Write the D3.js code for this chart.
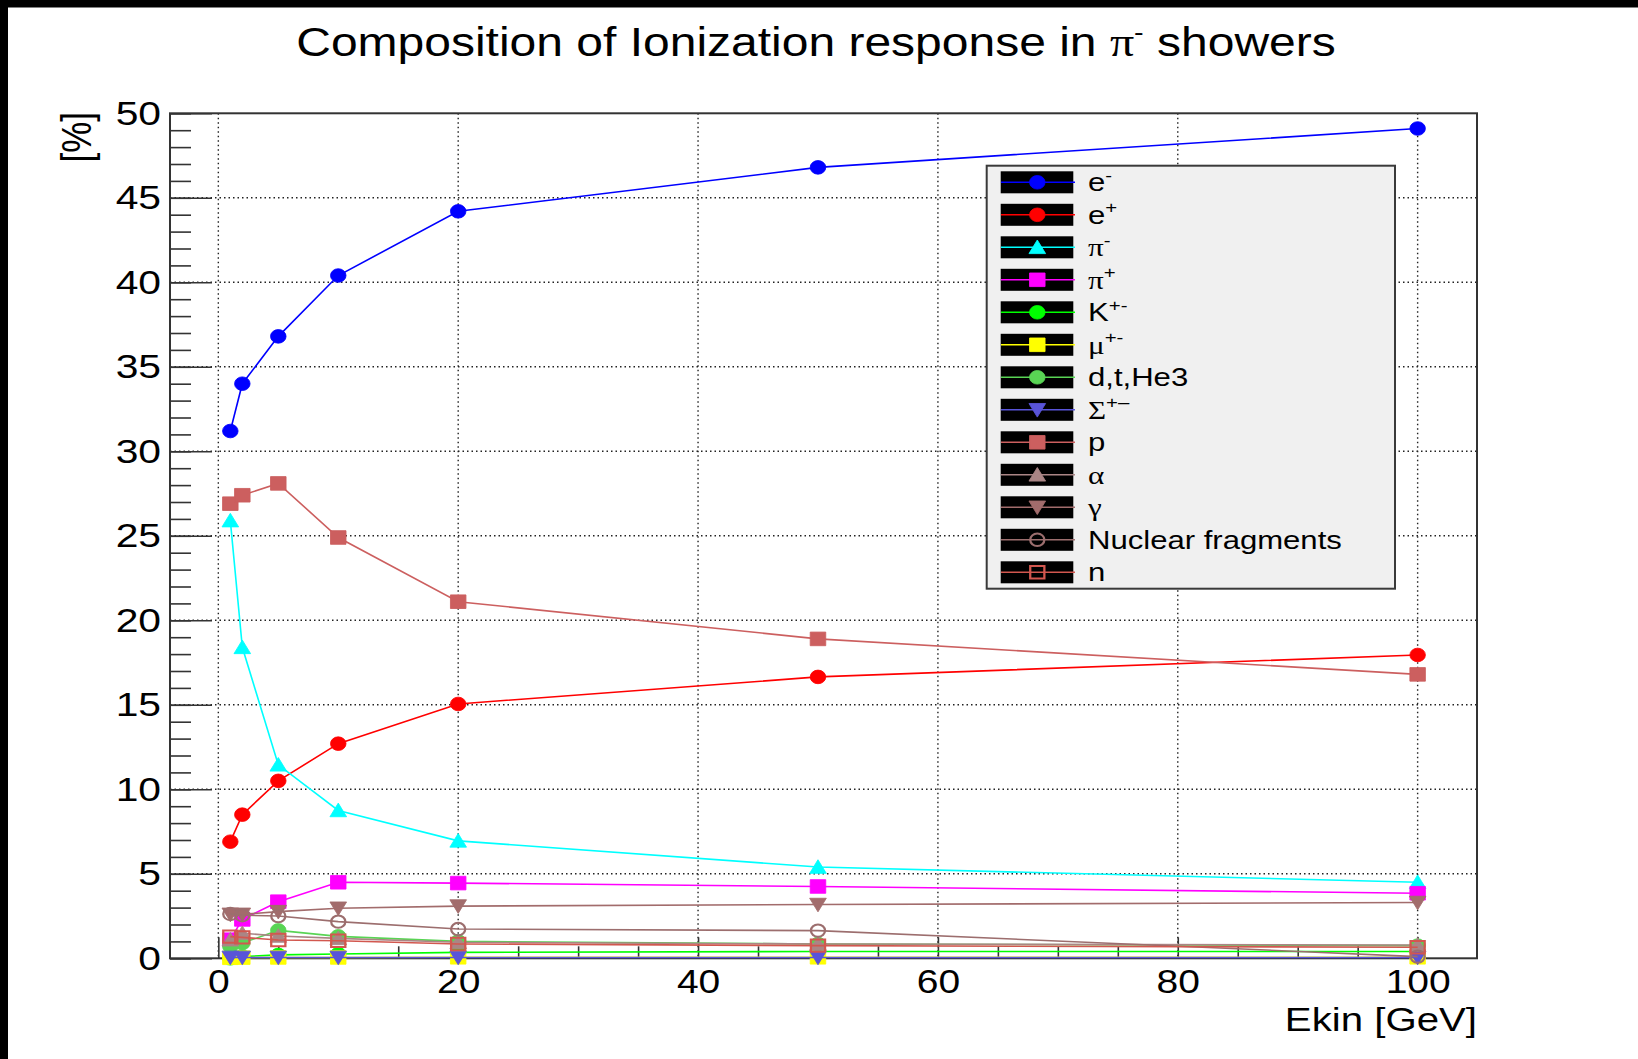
<!DOCTYPE html>
<html><head><meta charset="utf-8">
<script src="https://cdn.jsdelivr.net/npm/d3@7"></script>
<style>
html,body{margin:0;padding:0;background:#fdfdfd;}
svg{display:block;}
text{font-family:"Liberation Sans",Arial,Helvetica,sans-serif;fill:#000;}
</style>
</head><body>
<svg id="chart" width="1638" height="1059"></svg>
<script>
// Beam kinetic energies [GeV]
const energies = [1, 2, 5, 10, 20, 50, 100];

// Share of the ionization response [%] carried by each particle species
const eMinus   = [31.2, 34.0, 36.8, 40.4, 44.2, 46.8, 49.1];
const ePlus    = [6.9, 8.5, 10.5, 12.7, 15.05, 16.65, 17.95];
const piMinus  = [25.9, 18.4, 11.45, 8.75, 6.95, 5.4, 4.5];
const piPlus   = [1.1, 2.3, 3.35, 4.5, 4.45, 4.25, 3.85];
const kaons    = [0.0, 0.1, 0.2, 0.25, 0.35, 0.4, 0.4];
const muons    = [0.03, 0.04, 0.05, 0.05, 0.06, 0.06, 0.06];
const dtHe3    = [0.7, 0.9, 1.65, 1.3, 1.0, 0.85, 0.75];
const sigmas   = [0.05, 0.05, 0.05, 0.05, 0.05, 0.05, 0.05];
const protons  = [26.9, 27.4, 28.1, 24.9, 21.1, 18.9, 16.8];
const alphas   = [1.1, 1.48, 1.32, 1.18, 0.95, 0.85, 0.79];
const gammas   = [2.6, 2.6, 2.76, 2.96, 3.09, 3.18, 3.3];
const nucFrags = [2.62, 2.55, 2.5, 2.17, 1.73, 1.64, 0.1];
const neutrons = [1.28, 1.24, 1.08, 1.04, 0.85, 0.75, 0.65];

// Axis ticks
const xMajorTicks = [0, 20, 40, 60, 80, 100];
const xMinorTicks = [5, 10, 15, 25, 30, 35, 45, 50, 55, 65, 70, 75, 85, 90, 95];
const yMajorTicks = [0, 5, 10, 15, 20, 25, 30, 35, 40, 45, 50];
const yMinorTicks = d3.range(0, 51, 1);

const titleText = "Composition of Ionization response in ";
const xTitle = "Ekin [GeV]";
const yTitle = "[%]";

// Series: legend label, superscript, values, drawing style
const series = [
  {label: "e", sup: "-",  values: eMinus,   color: "#0000ff", shape: "circle"},
  {label: "e", sup: "+",  values: ePlus,    color: "#ff0000", shape: "circle"},
  {label: "π", sup: "-",  values: piMinus,  color: "#00ffff", shape: "triUp", greek: true},
  {label: "π", sup: "+",  values: piPlus,   color: "#ff00ff", shape: "square", greek: true},
  {label: "K", sup: "+-", values: kaons,    color: "#00ff00", shape: "circle"},
  {label: "μ", sup: "+-", values: muons,    color: "#ffff00", shape: "square", greek: true},
  {label: "d,t,He3",      values: dtHe3,    color: "#59d454", shape: "circle"},
  {label: "Σ", sup: "+–", values: sigmas,   color: "#5954d9", shape: "triDown", greek: true},
  {label: "p",            values: protons,  color: "#cc5f5f", shape: "square"},
  {label: "α",            values: alphas,   color: "#aa8585", shape: "triUp", greek: true},
  {label: "γ",            values: gammas,   color: "#a26c6c", shape: "triDown", greek: true},
  {label: "Nuclear fragments", values: nucFrags, color: "#9c6e6e", shape: "circleOpen"},
  {label: "n",            values: neutrons, color: "#d2574f", shape: "squareOpen"}
];

const W = 1638, H = 1059;
const SX = 1.2;                // horizontal stretch of glyphs and markers
const frame = {l: 170, r: 1477, t: 113.3, b: 958.3};

const svg = d3.select("#chart");

// background with dark strips along the left and top edges
svg.append("rect").attr("x", 0).attr("y", 0).attr("width", W).attr("height", H).attr("fill", "#000");
svg.append("rect").attr("x", 8).attr("y", 7.5).attr("width", W - 8).attr("height", H - 7.5).attr("fill", "#fff");

const x = d3.scaleLinear().domain([-4.03, 104.95]).range([frame.l, frame.r]);
const y = d3.scaleLinear().domain([0, 50]).range([frame.b, frame.t]);

// dotted grid at major ticks
const grid = svg.append("g").attr("stroke", "#222").attr("stroke-width", 1.4).attr("stroke-dasharray", "1.5,3");
grid.selectAll("line.gx").data(xMajorTicks).join("line")
  .attr("x1", d => x(d)).attr("x2", d => x(d)).attr("y1", frame.t).attr("y2", frame.b);
grid.selectAll("line.gy").data(yMajorTicks.filter(v => v > 0 && v < 50)).join("line")
  .attr("x1", frame.l).attr("x2", frame.r).attr("y1", d => y(d)).attr("y2", d => y(d));

// axes (ticks pointing into the frame)
const axisColor = "#333";
const xMinorAxis = svg.append("g").attr("transform", `translate(0,${frame.b})`)
  .call(d3.axisBottom(x).tickValues(xMinorTicks).tickSizeInner(-12).tickSizeOuter(0).tickFormat(""));
const xMajorAxis = svg.append("g").attr("transform", `translate(0,${frame.b})`)
  .call(d3.axisBottom(x).tickValues(xMajorTicks).tickSizeInner(-21).tickSizeOuter(0).tickPadding(12));
const yMinorAxis = svg.append("g").attr("transform", `translate(${frame.l},0)`)
  .call(d3.axisLeft(y).tickValues(yMinorTicks).tickSizeInner(-21).tickSizeOuter(0).tickFormat(""));
const yMajorAxis = svg.append("g").attr("transform", `translate(${frame.l},0)`)
  .call(d3.axisLeft(y).tickValues(yMajorTicks).tickSizeInner(-42).tickSizeOuter(0).tickPadding(7.5));

[xMinorAxis, xMajorAxis, yMinorAxis, yMajorAxis].forEach(g => {
  g.select(".domain").remove();
  g.selectAll(".tick line").attr("stroke", axisColor).attr("stroke-width", 1.6);
});
xMajorAxis.selectAll(".tick text")
  .attr("font-size", 32.5).attr("fill", "#000")
  .attr("font-family", '"Liberation Sans",Arial,sans-serif')
  .attr("transform", `scale(${SX},1)`);
yMajorAxis.selectAll(".tick text")
  .attr("font-size", 34).attr("fill", "#000")
  .attr("font-family", '"Liberation Sans",Arial,sans-serif')
  .attr("transform", `scale(${SX},1)`);

// frame
svg.append("rect")
  .attr("x", frame.l).attr("y", frame.t)
  .attr("width", frame.r - frame.l).attr("height", frame.b - frame.t)
  .attr("fill", "none").attr("stroke", axisColor).attr("stroke-width", 2);

// marker outlines (centred on the data point)
function markerPath(shape) {
  switch (shape) {
    case "circle":
    case "circleOpen": {
      const r = shape === "circle" ? 6.8 : 6.2;
      return `M${-r},0A${r},${r} 0 1,0 ${r},0A${r},${r} 0 1,0 ${-r},0Z`;
    }
    case "square":
    case "squareOpen": {
      const h = shape === "square" ? 6.8 : 6.2;
      return `M${-h},${-h}H${h}V${h}H${-h}Z`;
    }
    case "triUp": return "M0,-7.3L7.3,6.3L-7.3,6.3Z";
    case "triDown": return "M0,7.3L7.3,-6.3L-7.3,-6.3Z";
  }
}
function styleMarker(sel, s) {
  const open = s.shape.endsWith("Open");
  sel.attr("d", markerPath(s.shape))
    .attr("fill", open ? "none" : s.color)
    .attr("stroke", s.color)
    .attr("stroke-width", open ? 2 : 0.8);
}

// graphs
const plot = svg.append("g");
const line = d3.line().x((d, i) => x(energies[i])).y(d => y(d));
series.forEach(s => {
  const g = plot.append("g");
  g.append("path").attr("d", line(s.values))
    .attr("fill", "none").attr("stroke", s.color).attr("stroke-width", 1.6);
  g.selectAll("path.m").data(s.values).join("path")
    .attr("class", "m")
    .attr("transform", (d, i) => `translate(${x(energies[i])},${y(d)}) scale(${SX * 0.95},1)`)
    .call(sel => styleMarker(sel, s));
});

// legend
const leg = {l: 986.7, t: 165.7, r: 1395, b: 588.7, row0: 182.3, step: 32.5};
const legend = svg.append("g");
legend.append("rect")
  .attr("x", leg.l).attr("y", leg.t).attr("width", leg.r - leg.l).attr("height", leg.b - leg.t)
  .attr("fill", "#f0f0f0").attr("stroke", "#3a3a3a").attr("stroke-width", 2);
series.forEach((s, i) => {
  const cy = leg.row0 + i * leg.step;
  const row = legend.append("g");
  row.append("rect").attr("x", 1000.7).attr("y", cy - 11).attr("width", 72.6).attr("height", 22).attr("fill", "#000");
  row.append("line").attr("x1", 1001).attr("x2", 1075).attr("y1", cy).attr("y2", cy)
    .attr("stroke", s.color).attr("stroke-width", 1.6);
  row.append("path").attr("transform", `translate(1037.3,${cy}) scale(${SX * 0.95},1)`)
    .call(sel => styleMarker(sel, s));
  const t = row.append("text")
    .attr("transform", `translate(1088,${cy + 9}) scale(${SX},1)`)
    .attr("font-size", 25.9);
  t.append("tspan").text(s.label)
    .attr("font-family", s.greek ? '"Liberation Serif","DejaVu Serif",serif' : null);
  if (s.sup) {
    t.append("tspan").text(s.sup).attr("font-size", 17).attr("dy", -10.5);
  }
});

// title
const title = svg.append("text")
  .attr("transform", `translate(816,56) scale(${SX},1)`)
  .attr("text-anchor", "middle").attr("font-size", 40);
title.append("tspan").text(titleText);
title.append("tspan").text("π").attr("font-family", '"Liberation Serif","DejaVu Serif",serif');
title.append("tspan").text("-").attr("font-size", 24).attr("dy", -16);
title.append("tspan").text(" showers").attr("dy", 16);

// axis titles
svg.append("text")
  .attr("transform", `translate(1477,1030.5) scale(${SX},1)`)
  .attr("text-anchor", "end").attr("font-size", 33.5).text(xTitle);
svg.append("text")
  .attr("transform", `translate(91,112) scale(${SX},1) rotate(-90)`)
  .attr("text-anchor", "end").attr("font-size", 35).text(yTitle);
</script>
</body></html>
